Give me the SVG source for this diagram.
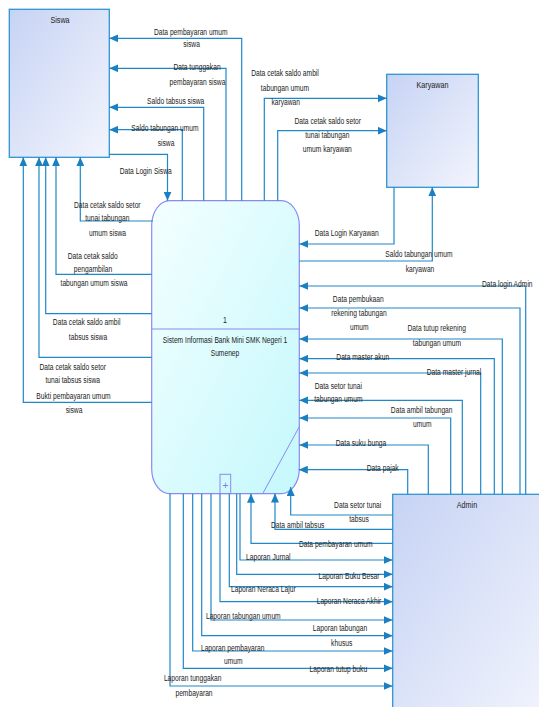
<svg xmlns="http://www.w3.org/2000/svg" width="539" height="707" viewBox="0 0 539 707">
<style>
.ent{stroke:#2f96d2;stroke-width:1.3;fill:url(#gEnt)}
.proc{stroke:#8a8af2;stroke-width:1.2;fill:url(#gProc)}
.pl{stroke:#8a8af2;stroke-width:1;fill:none}
.c{fill:none;stroke:#1f88c8;stroke-width:1.2;marker-end:url(#ah)}
text{font-family:"Liberation Sans",Arial,sans-serif;font-size:9.3px;fill:#222;text-anchor:middle}
.title{font-size:9.6px}
</style>
<defs>
<linearGradient id="gEnt" x1="0" y1="0" x2="1" y2="1">
<stop offset="0" stop-color="#c6d3f4"/>
<stop offset="1" stop-color="#f3f5fd"/>
</linearGradient>
<linearGradient id="gProc" x1="0" y1="0" x2="1" y2="1">
<stop offset="0" stop-color="#f4ffff"/>
<stop offset="1" stop-color="#c4f8fc"/>
</linearGradient>
<marker id="ah" markerUnits="userSpaceOnUse" markerWidth="10" markerHeight="8" refX="9" refY="4" orient="auto">
<path d="M0,0 L9,4 L0,8 z" fill="#1a80c2"/>
</marker>
</defs>

<g id="siswa">
<rect class="ent" x="9.3" y="9.3" width="100" height="148"/>
<text class="title" transform="matrix(.75,0,0,1,60,23)">Siswa</text>
</g>
<g id="karyawan">
<rect class="ent" x="386.7" y="74.3" width="91.6" height="113"/>
<text class="title" transform="matrix(.75,0,0,1,432.5,88)">Karyawan</text>
</g>
<g id="admin">
<rect class="ent" x="392.7" y="494.3" width="160" height="230"/>
<text class="title" transform="matrix(.75,0,0,1,467,508)">Admin</text>
</g>
<g id="proses1">
<rect class="proc" x="151.7" y="200.7" width="147.6" height="293" rx="18" ry="25"/>
<line class="pl" x1="151.7" y1="329" x2="299.3" y2="329"/>
<line class="pl" x1="262.7" y1="493.7" x2="299.3" y2="426.7"/>
<rect class="pl" x="220" y="474.3" width="10.7" height="19.3"/>
<text transform="matrix(1,0,0,1,225.4,488.5)" style="fill:#7a7ae8;font-size:10px">+</text>
<text transform="matrix(.75,0,0,1,225,322.5)">1</text>
<text transform="matrix(.72,0,0,1,225,342.5)">Sistem Informasi Bank Mini SMK Negeri 1</text>
<text transform="matrix(.72,0,0,1,225,356)">Sumenep</text>
</g>

<g id="connectors">
<path class="c" d="M241.7,200.7 V38.3 H109.3"/>
<path class="c" d="M226,200.7 V68.3 H109.3"/>
<path class="c" d="M203.7,200.7 V107.3 H109.3"/>
<path class="c" d="M182.3,200.7 V129.7 H109.3"/>
<path class="c" d="M109.3,154.3 H167.5 V200.7"/>
<path class="c" d="M153,221 H80.3 V157.3"/>
<path class="c" d="M151.7,274.3 H56 V157.3"/>
<path class="c" d="M151.7,313.7 H45.7 V157.3"/>
<path class="c" d="M151.7,357.3 H39 V157.3"/>
<path class="c" d="M151.7,402.3 H23.3 V157.3"/>
<path class="c" d="M264.3,200.7 V98.3 H386.7"/>
<path class="c" d="M277.7,200.7 V130.7 H386.7"/>
<path class="c" d="M394,187.3 V244 H299.3"/>
<path class="c" d="M299.3,261 H432.3 V187.3"/>
<path class="c" d="M525.7,494.3 V286 H299.3"/>
<path class="c" d="M520,494.3 V308 H299.3"/>
<path class="c" d="M502.3,494.3 V339 H299.3"/>
<path class="c" d="M494.3,494.3 V358.7 H299.3"/>
<path class="c" d="M480.7,494.3 V373 H299.3"/>
<path class="c" d="M462.3,494.3 V400.3 H299.3"/>
<path class="c" d="M450.7,494.3 V418 H299.3"/>
<path class="c" d="M428.3,494.3 V445 H299.3"/>
<path class="c" d="M407.7,494.3 V469.7 H298.8"/>
<path class="c" d="M392.7,515 H290.7 V487"/>
<path class="c" d="M392.7,529.3 H275 V493.5"/>
<path class="c" d="M392.7,543.3 H251 V493.7"/>
<path class="c" d="M240,493.7 V560 H392.7"/>
<path class="c" d="M236.7,493.7 V574.3 H392.7"/>
<path class="c" d="M229.3,493.7 V586.7 H392.7"/>
<path class="c" d="M220,493.7 V601.7 H392.7"/>
<path class="c" d="M211,493.7 V620 H392.7"/>
<path class="c" d="M201.7,493.7 V635.7 H392.7"/>
<path class="c" d="M192.7,493.7 V651 H392.7"/>
<path class="c" d="M183.3,493.7 V668.3 H392.7"/>
<path class="c" d="M170,493.7 V686 H392.7"/>
</g>

<g id="labels">
<text transform="matrix(.72,0,0,1,190.7,34.7)">Data pembayaran umum</text>
<text transform="matrix(.72,0,0,1,191.5,47)">siswa</text>
<text transform="matrix(.72,0,0,1,197,70)">Data tunggakan</text>
<text transform="matrix(.72,0,0,1,197.5,85)">pembayaran siswa</text>
<text transform="matrix(.72,0,0,1,175.7,103.7)">Saldo tabsus siswa</text>
<text transform="matrix(.72,0,0,1,165,131.3)">Saldo tabungan umum</text>
<text transform="matrix(.72,0,0,1,166,146.3)">siswa</text>
<text transform="matrix(.72,0,0,1,145.7,174)">Data Login Siswa</text>
<text transform="matrix(.72,0,0,1,107.3,208)">Data cetak saldo setor</text>
<text transform="matrix(.72,0,0,1,107.3,221.3)">tunai tabungan</text>
<text transform="matrix(.72,0,0,1,107.5,235.7)">umum siswa</text>
<text transform="matrix(.72,0,0,1,92.7,258.7)">Data cetak saldo</text>
<text transform="matrix(.72,0,0,1,93,272.3)">pengambilan</text>
<text transform="matrix(.72,0,0,1,94,286.3)">tabungan umum siswa</text>
<text transform="matrix(.72,0,0,1,86.7,325.3)">Data cetak saldo ambil</text>
<text transform="matrix(.72,0,0,1,88,339.7)">tabsus siswa</text>
<text transform="matrix(.72,0,0,1,72.7,369.7)">Data cetak saldo setor</text>
<text transform="matrix(.72,0,0,1,72.7,383)">tunai tabsus siswa</text>
<text transform="matrix(.72,0,0,1,73.5,399.3)">Bukti pembayaran umum</text>
<text transform="matrix(.72,0,0,1,74,413)">siswa</text>
<text transform="matrix(.72,0,0,1,285,76.3)">Data cetak saldo ambil</text>
<text transform="matrix(.72,0,0,1,285,91.3)">tabungan umum</text>
<text transform="matrix(.72,0,0,1,285.7,105.3)">karyawan</text>
<text transform="matrix(.72,0,0,1,327.7,124)">Data cetak saldo setor</text>
<text transform="matrix(.72,0,0,1,327.3,138)">tunai tabungan</text>
<text transform="matrix(.72,0,0,1,327.3,152)">umum karyawan</text>
<text transform="matrix(.72,0,0,1,346.7,236.3)">Data Login Karyawan</text>
<text transform="matrix(.72,0,0,1,419,257)">Saldo tabungan umum</text>
<text transform="matrix(.72,0,0,1,420,271.7)">karyawan</text>
<text transform="matrix(.72,0,0,1,507.3,287)">Data login Admin</text>
<text transform="matrix(.72,0,0,1,358.3,302.3)">Data pembukaan</text>
<text transform="matrix(.72,0,0,1,359,316.3)">rekening tabungan</text>
<text transform="matrix(.72,0,0,1,359.3,330.3)">umum</text>
<text transform="matrix(.72,0,0,1,436.7,331.3)">Data tutup rekening</text>
<text transform="matrix(.72,0,0,1,437,345.7)">tabungan umum</text>
<text transform="matrix(.72,0,0,1,362.7,360.3)">Data master akun</text>
<text transform="matrix(.72,0,0,1,454,374.7)">Data master jurnal</text>
<text transform="matrix(.72,0,0,1,338.3,388.7)">Data setor tunai</text>
<text transform="matrix(.72,0,0,1,338.3,402.3)">tabungan umum</text>
<text transform="matrix(.72,0,0,1,421.7,413)">Data ambil tabungan</text>
<text transform="matrix(.72,0,0,1,422.3,427)">umum</text>
<text transform="matrix(.72,0,0,1,361,445.7)">Data suku bunga</text>
<text transform="matrix(.72,0,0,1,382.7,471.3)">Data pajak</text>
<text transform="matrix(.72,0,0,1,357.7,508)">Data setor tunai</text>
<text transform="matrix(.72,0,0,1,359,522.3)">tabsus</text>
<text transform="matrix(.72,0,0,1,297.7,528)">Data ambil tabsus</text>
<text transform="matrix(.72,0,0,1,335.7,547)">Data pembayaran umum</text>
<text transform="matrix(.72,0,0,1,268.3,560.3)">Laporan Jurnal</text>
<text transform="matrix(.72,0,0,1,349,579)">Laporan Buku Besar</text>
<text transform="matrix(.72,0,0,1,263.3,592.3)">Laporan Neraca Lajur</text>
<text transform="matrix(.72,0,0,1,349,603.7)">Laporan Neraca Akhir</text>
<text transform="matrix(.72,0,0,1,243.3,619)">Laporan tabungan umum</text>
<text transform="matrix(.72,0,0,1,340,631.3)">Laporan tabungan</text>
<text transform="matrix(.72,0,0,1,341.7,645.7)">khusus</text>
<text transform="matrix(.72,0,0,1,232.7,650.7)">Laporan pembayaran</text>
<text transform="matrix(.72,0,0,1,233.3,663.7)">umum</text>
<text transform="matrix(.72,0,0,1,338.3,672.3)">Laporan tutup buku</text>
<text transform="matrix(.72,0,0,1,192.7,681.3)">Laporan tunggakan</text>
<text transform="matrix(.72,0,0,1,194,695.7)">pembayaran</text>
</g>
</svg>
